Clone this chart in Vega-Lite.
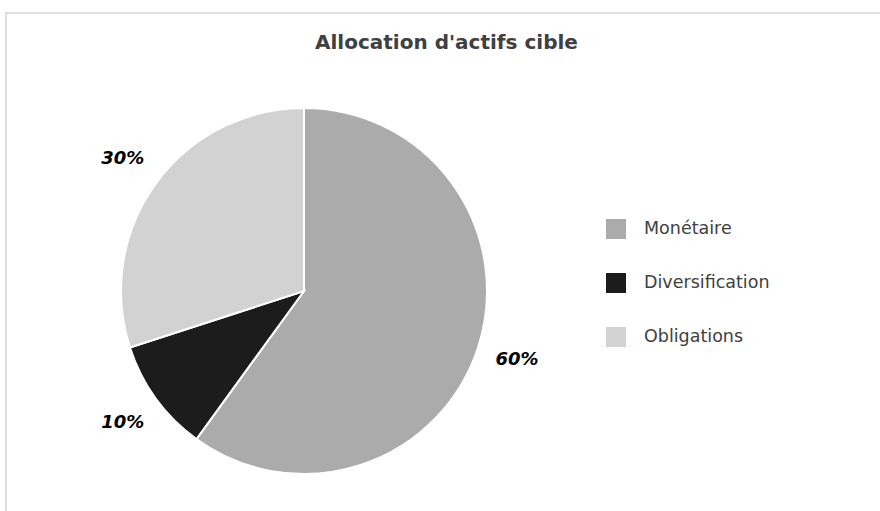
{
  "$schema": "https://vega.github.io/schema/vega-lite/v6.json",
  "autosize": {"type": "none"},
  "padding": {"left": 6, "top": 13, "right": -3, "bottom": -3},
  "width": 877,
  "height": 501,
  "background": "white",
  "view": {"stroke": "#d4d4d4", "strokeWidth": 1.5, "fill": "white"},
  "config": {
    "font": "DejaVu Sans"
  },
  "title": {
    "text": "Allocation d'actifs cible",
    "font": "DejaVu Sans",
    "fontSize": 20,
    "fontWeight": "bold",
    "color": "#404040",
    "anchor": "start",
    "dx": 309,
    "frame": "group",
    "offset": -40
  },
  "data": {
    "values": [
      {"categorie": "Monétaire", "valeur": 60, "ordre": 1, "etiquette": "60%"},
      {"categorie": "Diversification", "valeur": 10, "ordre": 2, "etiquette": "10%"},
      {"categorie": "Obligations", "valeur": 30, "ordre": 3, "etiquette": "30%"}
    ]
  },
  "encoding": {
    "theta": {"field": "valeur", "type": "quantitative", "stack": true},
    "order": {"field": "ordre", "type": "quantitative"},
    "color": {
      "field": "categorie",
      "type": "nominal",
      "sort": null,
      "scale": {
        "domain": ["Monétaire", "Diversification", "Obligations"],
        "range": ["#ababab", "#1c1c1c", "#d2d2d2"]
      },
      "legend": {
        "title": null,
        "orient": "none",
        "legendX": 600,
        "legendY": 206,
        "padding": 0,
        "symbolType": "square",
        "symbolSize": 400,
        "symbolStrokeWidth": 0,
        "labelFont": "DejaVu Sans",
        "labelFontSize": 17.5,
        "labelColor": "#404040",
        "labelOffset": 18,
        "rowPadding": 34
      }
    }
  },
  "layer": [
    {
      "mark": {"type": "arc", "outerRadius": 183, "x": 298, "y": 278, "stroke": "white", "strokeWidth": 2}
    },
    {
      "mark": {
        "type": "text",
        "radius": 224,
        "x": 298,
        "y": 278,
        "font": "DejaVu Sans",
        "fontSize": 18,
        "fontWeight": "bold",
        "fontStyle": "italic",
        "fill": "#000000"
      },
      "encoding": {
        "text": {"field": "etiquette", "type": "nominal"},
        "color": {"value": "#000000"}
      }
    }
  ]
}
